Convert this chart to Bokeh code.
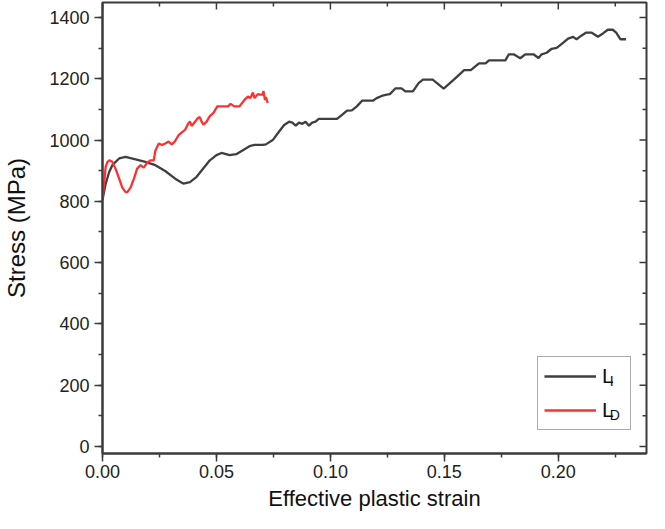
import numpy as np
from bokeh.plotting import figure
from bokeh.models import (Range1d, SingleIntervalTicker, NumeralTickFormatter,
                          Legend, LegendItem)
from bokeh.core.properties import value
from bokeh.embed import file_html
from bokeh.resources import INLINE

# L_I curve (black)
li_strain = [0, 0.0014, 0.0029, 0.0043, 0.0073, 0.0101, 0.0145, 0.0188, 0.0232, 0.0275,
             0.0319, 0.0348, 0.0355, 0.0384, 0.0413, 0.0442, 0.0471, 0.0500, 0.0522, 0.0558,
             0.0587, 0.0616, 0.0645, 0.0667, 0.0703, 0.0717, 0.0747, 0.0775, 0.0797, 0.0819,
             0.0833, 0.0848, 0.0862, 0.0877, 0.0891, 0.0906, 0.0920, 0.0935, 0.0949, 0.1029,
             0.1051, 0.1073, 0.1094, 0.1116, 0.1140, 0.1188, 0.1203, 0.1225, 0.1247, 0.1261,
             0.1286, 0.1312, 0.1329, 0.1362, 0.1387, 0.1406, 0.1449, 0.1497, 0.1543, 0.1587,
             0.1616, 0.1652, 0.1681, 0.1696, 0.1768, 0.1783, 0.1804, 0.1833, 0.1855, 0.1891,
             0.1913, 0.1927, 0.1949, 0.1971, 0.1993, 0.2022, 0.2043, 0.2065, 0.2080, 0.2094,
             0.2123, 0.2145, 0.2174, 0.2196, 0.2217, 0.2239, 0.2254, 0.2273, 0.2297]
li_stress = [805, 858, 895, 918, 940, 945, 937, 929, 918, 899,
             874, 861, 858, 863, 880, 907, 934, 951, 958, 951,
             954, 967, 980, 984, 984, 986, 1000, 1028, 1049, 1060,
             1057, 1047, 1057, 1053, 1060, 1047, 1057, 1060, 1069, 1069,
             1082, 1096, 1097, 1110, 1129, 1129, 1137, 1144, 1148, 1150,
             1169, 1169, 1159, 1159, 1186, 1197, 1197, 1168, 1198, 1228,
             1228, 1250, 1250, 1260, 1260, 1280, 1280, 1267, 1280, 1280,
             1268, 1280, 1285, 1298, 1301, 1318, 1331, 1337, 1329, 1337,
             1351, 1351, 1337, 1348, 1360, 1360, 1351, 1329, 1329]

# L_D curve (red)
ld_strain = [0, 0.0007, 0.0014, 0.0022, 0.0030, 0.0043, 0.0058, 0.0073, 0.0087, 0.0101,
             0.0109, 0.0123, 0.0138, 0.0152, 0.0167, 0.0181, 0.0196, 0.0210, 0.0225, 0.0232,
             0.0247, 0.0261, 0.0275, 0.0290, 0.0304, 0.0317, 0.0333, 0.0348, 0.0362, 0.0377,
             0.0384, 0.0391, 0.0406, 0.0420, 0.0427, 0.0435, 0.0443, 0.0457, 0.0471, 0.0486,
             0.0504, 0.0526, 0.0551, 0.0562, 0.0578, 0.0601, 0.0623, 0.0638, 0.0649, 0.0660,
             0.0667, 0.0681, 0.0691, 0.0703, 0.0706, 0.0713, 0.0717, 0.0725]
ld_stress = [808, 858, 913, 929, 934, 929, 905, 874, 845, 830,
             830, 845, 874, 907, 918, 910, 926, 934, 934, 965,
             989, 984, 989, 995, 986, 995, 1015, 1025, 1033, 1055,
             1060, 1046, 1060, 1073, 1075, 1060, 1050, 1060, 1078, 1088,
             1110, 1110, 1110, 1118, 1110, 1110, 1131, 1142, 1137, 1155,
             1137, 1150, 1148, 1148, 1160, 1131, 1140, 1121]

# legend subscripts (L_I, L_D)
legend_sub_text = ["I", "D"]
legend_sub_x = [0.2226, 0.2226]
legend_sub_y = [187, 76]

x_tick_interval = 0.05
y_tick_interval = 200
x_max = 0.2387
y_min, y_max = -23, 1449

FONT = "Liberation Sans"
AXIS_COLOR = "#3a3a3a"

p = figure(width=649, height=513, output_backend="svg", toolbar_location=None,
           x_range=Range1d(0, x_max), y_range=Range1d(y_min, y_max),
           min_border_left=10, min_border_right=3, min_border_top=2, min_border_bottom=10)
p.background_fill_color = "white"
p.border_fill_color = "white"
p.outline_line_color = AXIS_COLOR
p.outline_line_width = 2
p.outline_line_alpha = 1
p.xgrid.visible = False
p.ygrid.visible = False

r_li = p.line(li_strain, li_stress, line_color="#3f3f3f", line_width=2.3)
r_ld = p.line(ld_strain, ld_stress, line_color="#ff3030", line_width=2.3)

xt = SingleIntervalTicker(interval=x_tick_interval, num_minor_ticks=2)
yt = SingleIntervalTicker(interval=y_tick_interval, num_minor_ticks=2)

xa = p.xaxis[0]
ya = p.yaxis[0]
xa.ticker = xt
ya.ticker = yt
xa.formatter = NumeralTickFormatter(format="0.00")
xa.axis_label = "Effective plastic strain"
ya.axis_label = "Stress (MPa)"
for ax in (xa, ya):
    ax.axis_line_color = AXIS_COLOR
    ax.axis_line_width = 2
    ax.major_tick_line_color = AXIS_COLOR
    ax.minor_tick_line_color = AXIS_COLOR
    ax.major_tick_line_width = 1.5
    ax.minor_tick_line_width = 1.5
    ax.major_tick_in = 0
    ax.major_tick_out = 8
    ax.minor_tick_in = 0
    ax.minor_tick_out = 4
    ax.major_label_text_font = FONT
    ax.major_label_text_font_size = "18px"
    ax.major_label_text_color = "#222222"
    ax.axis_label_text_font = FONT
    ax.axis_label_text_font_style = "normal"
    ax.axis_label_text_color = "#111111"
xa.axis_label_text_font_size = "22px"
ya.axis_label_text_font_size = "24px"
xa.major_label_standoff = 3
ya.major_label_standoff = 5
xa.axis_label_standoff = 5
ya.axis_label_standoff = 16

# inward ticks on the top and right frame edges (mirror of the axis ticks)
x_mirror = np.round(np.arange(0, x_max, x_tick_interval / 2), 4)
y_mirror = np.arange(0, y_max, y_tick_interval / 2)
x_major_mask = np.isclose(np.round(x_mirror / x_tick_interval) * x_tick_interval, x_mirror)
y_major_mask = (y_mirror % y_tick_interval) == 0
for mask, length in ((x_major_mask, 7), (~x_major_mask, 4)):
    xs = x_mirror[mask]
    p.ray(x=xs, y=np.full(len(xs), y_max), length=length, length_units="screen",
          angle=-np.pi / 2, line_color=AXIS_COLOR, line_width=1.5)
for mask, length in ((y_major_mask, 7), (~y_major_mask, 4)):
    ys = y_mirror[mask]
    p.ray(x=np.full(len(ys), x_max), y=ys, length=length, length_units="screen",
          angle=np.pi, line_color=AXIS_COLOR, line_width=1.5)

legend = Legend(items=[LegendItem(label="L", renderers=[r_li]),
                       LegendItem(label="L", renderers=[r_ld])],
                location=(435, 23), orientation="vertical",
                padding=6, spacing=8, margin=0,
                glyph_width=52, glyph_height=26, label_height=26, label_width=22,
                label_standoff=6,
                label_text_font=FONT, label_text_font_size="21px", label_text_color="#111111",
                border_line_color="#555555", border_line_width=1,
                background_fill_alpha=0)
p.add_layout(legend, "center")

p.text(x=legend_sub_x, y=legend_sub_y, text=legend_sub_text,
       text_font=value(FONT), text_font_size="14px", text_color="#111111",
       text_baseline="bottom", text_align="left", level="overlay")

open("out.html", "w").write(file_html(p, INLINE))
